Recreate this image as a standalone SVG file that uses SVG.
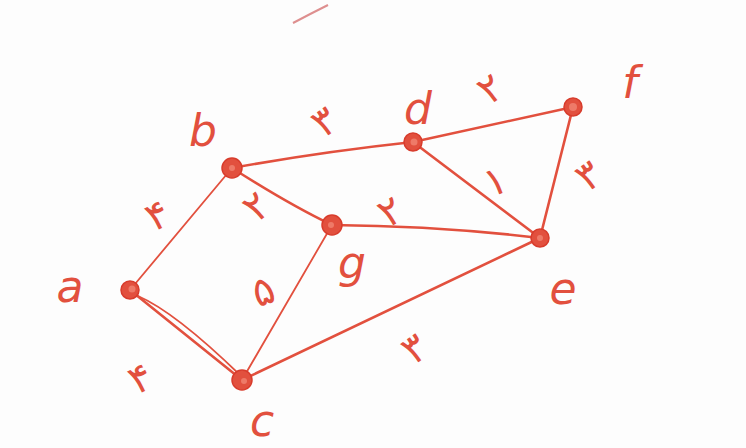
<svg xmlns="http://www.w3.org/2000/svg" width="746" height="448" viewBox="0 0 746 448">
<style>
.bg{fill:#fdfdfd}
.edge{stroke:#e2503e;stroke-width:2.6;fill:none;stroke-linecap:round}
.thin{stroke-width:1.8}
.dot{fill:#e2503e;stroke:#d83c2c;stroke-width:1.5}
.core{fill:#ee7a68}
.lbl{font-family:"DejaVu Sans","Liberation Sans",sans-serif;fill:#e2503e;font-size:44px;text-anchor:middle;dominant-baseline:central;font-style:italic}
.w{font-family:"DejaVu Sans","Noto Sans",sans-serif;fill:#e2503e;font-size:40px;text-anchor:middle;dominant-baseline:central}
</style>
<rect class="bg" width="746" height="448"/>
<path d="M293 23 Q310 14 328 5" stroke="#d06060" stroke-width="2" fill="none" opacity="0.7"/>
<g id="connectors">
<path class="edge thin" d="M130 290 L232 168"/>
<path class="edge" d="M232 168 Q320 152 413 142"/>
<path class="edge" d="M413 142 L573 107"/>
<path class="edge" d="M232 168 Q290 205 332 225"/>
<path class="edge" d="M332 225 Q440 226 540 238"/>
<path class="edge" d="M413 142 L540 238"/>
<path class="edge" d="M573 107 L540 238"/>
<path class="edge thin" d="M332 225 L242 380"/>
<path class="edge" d="M242 380 Q390 310 540 238"/>
<path class="edge" d="M130 290 L242 380" stroke-width="4"/>
<path class="edge thin" d="M138 296 Q175 312 240 375"/>
<g id="weights">
<text class="w" transform="translate(157 215) rotate(-25)">۴</text>
<text class="w" transform="translate(324 121) rotate(-35)">۳</text>
<text class="w" transform="translate(490 88) rotate(-35)">۲</text>
<text class="w" transform="translate(256 206) rotate(-40)">۲</text>
<text class="w" transform="translate(390 211) rotate(-30)">۲</text>
<text class="w" transform="translate(495 181) rotate(-20)">۱</text>
<text class="w" transform="translate(588 175) rotate(-35)">۳</text>
<text class="w" transform="translate(263 291) rotate(-20)">۵</text>
<text class="w" transform="translate(414 348) rotate(-35)">۳</text>
<text class="w" transform="translate(140 378) rotate(-25)">۴</text>
</g>
</g>
<g id="node-a"><circle class="dot" cx="130" cy="290" r="9"/><circle class="core" cx="132" cy="289" r="3.5"/><text class="lbl" x="70" y="286">a</text></g>
<g id="node-b"><circle class="dot" cx="232" cy="168" r="10"/><circle class="core" cx="232" cy="168" r="3"/><text class="lbl" x="203" y="130">b</text></g>
<g id="node-d"><circle class="dot" cx="413" cy="142" r="9"/><circle class="core" cx="414" cy="142" r="3.5"/><text class="lbl" x="418" y="108">d</text></g>
<g id="node-f"><circle class="dot" cx="573" cy="107" r="9"/><circle class="core" cx="573" cy="107" r="4"/><text class="lbl" x="630" y="82">f</text></g>
<g id="node-g"><circle class="dot" cx="332" cy="225" r="10"/><circle class="core" cx="331" cy="225" r="3"/><text class="lbl" x="352" y="262">g</text></g>
<g id="node-e"><circle class="dot" cx="540" cy="238" r="9"/><circle class="core" cx="540" cy="238" r="3"/><text class="lbl" x="563" y="288">e</text></g>
<g id="node-c"><circle class="dot" cx="242" cy="380" r="10"/><circle class="core" cx="244" cy="381" r="3"/><text class="lbl" x="262" y="420">c</text></g>
</svg>
